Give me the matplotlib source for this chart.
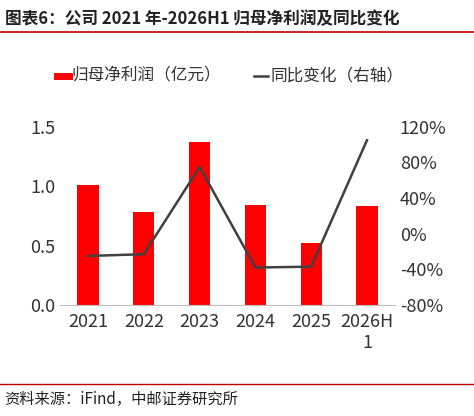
import matplotlib
matplotlib.use("Agg")
import matplotlib.pyplot as plt
from matplotlib.ticker import FuncFormatter

plt.rcParams['font.family'] = ['Noto Sans CJK SC', 'DejaVu Sans']

categories = ["2021", "2022", "2023", "2024", "2025", "2026H\n1"]
profit = [1.01, 0.78, 1.37, 0.84, 0.52, 0.83]
yoy = [-25, -23, 75, -38, -37, 105]

fig = plt.figure(figsize=(4.74, 4.16), dpi=100)
ax = fig.add_axes([0.127, 0.267, 0.706, 0.428])
x = range(len(categories))
ax.bar(x, profit, width=0.38, color="#FF0000", label="归母净利润（亿元）")
ax.set_ylim(0, 1.5)
ax.set_yticks([0, 0.5, 1.0, 1.5])
ax.yaxis.set_major_formatter(FuncFormatter(lambda v, p: f"{v:.1f}"))
ax.set_xticks(list(x))
ax.set_xticklabels(categories)
ax.set_xlim(-0.5, 5.5)
ax2 = ax.twinx()
ax2.plot(list(x), yoy, color="#404040", lw=1.8, label="同比变化（右轴）")
ax2.set_ylim(-80, 120)
ax2.set_yticks([-80, -40, 0, 40, 80, 120])
ax2.yaxis.set_major_formatter(FuncFormatter(lambda v, p: f"{v:.0f}%"))
for a in (ax, ax2):
    for s in a.spines.values():
        s.set_visible(False)
    a.tick_params(length=0, labelsize=13, colors="#333333")
ax.spines['bottom'].set_visible(True)
ax.spines['bottom'].set_color("#BFBFBF")
ax.tick_params(axis='x', pad=6)

# legend
fig.lines.append(plt.Line2D([0.12, 0.145], [0.818, 0.818], color="#FF0000", lw=5, transform=fig.transFigure))
fig.text(0.15, 0.818, "归母净利润（亿元）", fontsize=12, va="center", color="#333333")
fig.lines.append(plt.Line2D([0.535, 0.565], [0.818, 0.818], color="#404040", lw=1.8, transform=fig.transFigure))
fig.text(0.57, 0.818, "同比变化（右轴）", fontsize=12, va="center", color="#333333")

fig.text(0.01, 0.955, "图表6：公司 2021 年-2026H1 归母净利润及同比变化", fontsize=12, weight="bold", va="center", color="#222222")
fig.lines.append(plt.Line2D([0.0, 1.0], [0.922, 0.922], color="#C00000", lw=1.2, transform=fig.transFigure))
fig.lines.append(plt.Line2D([0.0, 1.0], [0.078, 0.078], color="#C00000", lw=1.0, transform=fig.transFigure))
fig.text(0.01, 0.04, "资料来源：iFind，中邮证券研究所", fontsize=11, va="center", color="#222222")
fig.savefig("out.png", dpi=100)
